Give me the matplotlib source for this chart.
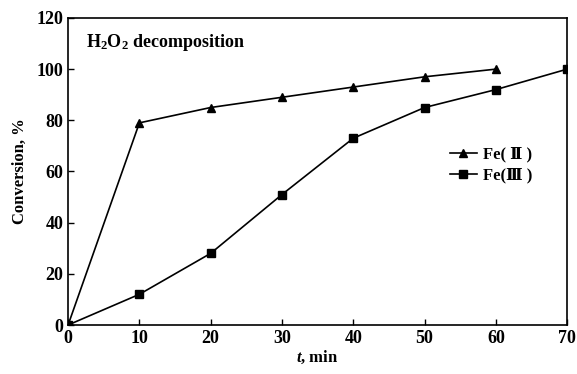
import numpy as np
import matplotlib
matplotlib.use('Agg')
import matplotlib.pyplot as plt

plt.rcParams['font.family'] = ['Liberation Serif', 'DejaVu Serif']
plt.rcParams['font.weight'] = 'bold'
plt.rcParams['mathtext.fontset'] = 'custom'
plt.rcParams['mathtext.rm'] = 'Liberation Serif:bold'
plt.rcParams['mathtext.it'] = 'Liberation Serif:bold:italic'
plt.rcParams['mathtext.bf'] = 'Liberation Serif:bold'

t_fe2 = [0, 10, 20, 30, 40, 50, 60]
conv_fe2 = [0, 79, 85, 89, 93, 97, 100]
t_fe3 = [0, 10, 20, 30, 40, 50, 60, 70]
conv_fe3 = [0, 12, 28, 51, 73, 85, 92, 100]

fig = plt.figure(figsize=(5.77, 3.74), dpi=100)
ax = fig.add_axes([0.118, 0.131, 0.865, 0.821])

ax.plot(t_fe2, conv_fe2, color='black', lw=1.2, marker='^', ms=6, label='Fe( Ⅱ )')
ax.plot(t_fe3, conv_fe3, color='black', lw=1.2, marker='s', ms=6, label='Fe(Ⅲ )')

ax.set_xlim(0, 70)
ax.set_ylim(0, 120)
ax.set_xticks(range(0, 71, 10))
ax.set_yticks(range(0, 121, 20))
ax.tick_params(direction='in', labelsize=13, length=4, width=1)
for s in ax.spines.values():
    s.set_linewidth(1.2)

ax.set_xlabel(r'$t$, min', fontsize=12, fontweight='bold', labelpad=1)
ax.set_ylabel('Conversion, %', fontsize=12, fontweight='bold', labelpad=6)
ax.text(0.035, 0.955, r'H$_2$O$_2$ decomposition', transform=ax.transAxes,
        fontsize=13, fontweight='bold', va='top')

ax.legend(loc='center left', bbox_to_anchor=(0.735, 0.52), frameon=False,
          fontsize=12, handlelength=1.6, handletextpad=0.4, labelspacing=0.3)

fig.savefig('out.png', dpi=100)
